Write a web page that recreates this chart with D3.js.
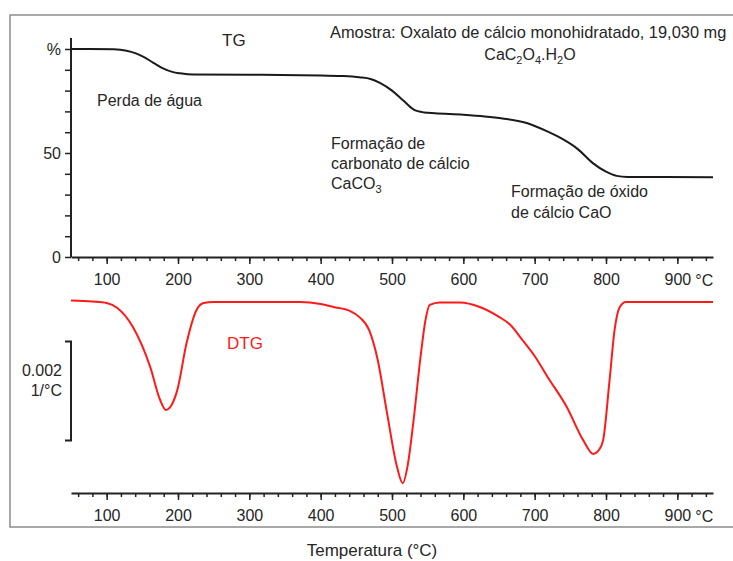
<!DOCTYPE html>
<meta charset="utf-8">
<script src="https://d3js.org/d3.v7.min.js"></script>
<style>
  body { margin: 0; background: #fff; }
  text { font-family: "Liberation Sans", Arial, sans-serif; fill: #262626; }
</style>
<div id="my_dataviz"></div>
<script>
// TG curve: temperature (°C) and residual mass (%)
var tgTemp = [50, 110, 128, 140, 151, 165, 179, 192, 203, 222, 300, 400, 430, 454, 470, 483, 500, 515, 530, 545, 560, 600, 630, 655, 690, 720, 740, 760, 782, 800, 815, 830, 950];
var tgMass = [100, 99.9, 99.2, 98, 96.3, 93.5, 90.7, 89, 88.3, 87.7, 87.6, 87.3, 87, 86.4, 85.6, 83.7, 80, 75.5, 71, 69.5, 69.1, 68.4, 67.6, 66.6, 64.3, 60, 56.5, 52, 45, 41, 39, 38.5, 38.4];

// DTG curve: temperature (°C) and derivative (1/°C)
var dtgTemp = [50, 80, 100, 115, 137, 161, 175, 183, 191, 199, 212, 226, 236, 250, 300, 371, 400, 418, 441, 454, 468, 480, 493, 507, 515, 522, 530, 540, 547, 553, 567, 595, 623, 650, 665, 683, 700, 717, 745, 768, 782, 790, 796, 805, 812, 819, 828, 850, 950];
var dtgValue = [0.00003, 0.00001, -0.00002, -0.00012, -0.00051, -0.00131, -0.00198, -0.00218, -0.00208, -0.00178, -0.00083, -0.00016, -0.00002, 0, 0, 0, -0.00004, -0.0001, -0.00018, -0.0003, -0.00057, -0.00117, -0.00224, -0.00333, -0.00366, -0.0033, -0.00242, -0.00111, -0.00036, -0.00006, -0.00001, -0.00001, -0.0001, -0.0003, -0.00045, -0.00077, -0.00109, -0.00149, -0.00212, -0.00279, -0.00307, -0.00299, -0.00279, -0.00158, -0.00057, -0.00011, 0, 0, 0];

// axis ticks
var majorTicks = [100, 200, 300, 400, 500, 600, 700, 800, 900];
var minorTicks = d3.range(60, 950, 20);
var tgTicks = d3.range(0, 101, 10);
var tgLabels = {0: "0", 50: "50", 100: "%"};
var scaleBar = [-0.0008, -0.0028]; // 0.002 1/°C

var width = 733, height = 561;

var svg = d3.select("#my_dataviz")
  .append("svg")
    .attr("width", width)
    .attr("height", height);

// outer frame
svg.append("rect")
  .attr("x", 10).attr("y", 15)
  .attr("width", 740).attr("height", 512)
  .attr("fill", "none")
  .attr("stroke", "#8c8c8c")
  .attr("stroke-width", 1.5);

var x = d3.scaleLinear().domain([50, 950]).range([71, 713]);
var yTG = d3.scaleLinear().domain([0, 100]).range([257, 49]);
var yDTG = d3.scaleLinear().domain([0, -0.002]).range([302, 401]);

function xAxis(g, yPos, labelY) {
  g.attr("transform", "translate(0," + yPos + ")");
  g.append("g")
    .call(d3.axisBottom(x).tickValues(minorTicks).tickSize(4).tickSizeOuter(0).tickFormat(""))
    .call(function(s) { s.select(".domain").attr("stroke", "#222").attr("stroke-width", 2); });
  var maj = g.append("g")
    .call(d3.axisBottom(x).tickValues(majorTicks).tickSize(7).tickSizeOuter(0).tickPadding(labelY))
    .call(function(s) { s.select(".domain").remove(); });
  g.selectAll(".tick line").attr("stroke", "#222").attr("stroke-width", 1.5);
  maj.selectAll("text").attr("font-size", 16).attr("fill", "#262626")
    .style("font-family", "Liberation Sans, Arial, sans-serif");
  g.append("text")
    .attr("x", x(900) + 18)
    .attr("y", labelY + 19)
    .attr("font-size", 16)
    .text("°C");
}

// TG axes
svg.append("g").call(function(g) { xAxis(g, 257, 10); });

var yAx = svg.append("g")
  .attr("transform", "translate(71,0)")
  .call(d3.axisLeft(yTG).tickValues(tgTicks).tickSize(6).tickSizeOuter(0).tickPadding(4)
    .tickFormat(function(d) { return tgLabels[d] || ""; }));
yAx.select(".domain").attr("d", "M0," + yTG(0) + "V38").attr("stroke", "#222").attr("stroke-width", 2);
yAx.selectAll(".tick line").attr("stroke", "#222").attr("stroke-width", 1.5);
yAx.selectAll("text").attr("font-size", 16).attr("fill", "#262626")
  .style("font-family", "Liberation Sans, Arial, sans-serif");

// TG curve
var tgData = tgTemp.map(function(t, i) { return [t, tgMass[i]]; });
svg.append("path")
  .datum(tgData)
  .attr("fill", "none")
  .attr("stroke", "#1a1a1a")
  .attr("stroke-width", 2)
  .attr("d", d3.line()
    .x(function(d) { return x(d[0]); })
    .y(function(d) { return yTG(d[1]); })
    .curve(d3.curveMonotoneX));

// DTG axis
svg.append("g").call(function(g) { xAxis(g, 493, 10); });

// DTG curve
var dtgData = dtgTemp.map(function(t, i) { return [t, dtgValue[i]]; });
svg.append("path")
  .datum(dtgData)
  .attr("fill", "none")
  .attr("stroke", "#ff1a1a")
  .attr("stroke-width", 2)
  .attr("d", d3.line()
    .x(function(d) { return x(d[0]); })
    .y(function(d) { return yDTG(d[1]); })
    .curve(d3.curveMonotoneX));

// scale bar
svg.append("path")
  .attr("fill", "none")
  .attr("stroke", "#222")
  .attr("stroke-width", 2)
  .attr("d", "M65," + yDTG(scaleBar[0]) + "H71V" + yDTG(scaleBar[1]) + "H65");

svg.append("text").attr("x", 62).attr("y", 376).attr("text-anchor", "end").attr("font-size", 16).text("0.002");
svg.append("text").attr("x", 62).attr("y", 396).attr("text-anchor", "end").attr("font-size", 16).text("1/°C");

// annotations
function label(xp, yp, txt, opts) {
  var t = svg.append("text").attr("x", xp).attr("y", yp).attr("font-size", (opts && opts.size) || 16);
  if (opts && opts.anchor) t.attr("text-anchor", opts.anchor);
  if (opts && opts.fill) t.style("fill", opts.fill);
  return t.text(txt);
}

label(222, 46, "TG", {size: 17});
label(330, 38, "Amostra: Oxalato de cálcio monohidratado, 19,030 mg", {size: 16.4});

var f = svg.append("text").attr("x", 530).attr("y", 60).attr("font-size", 16).attr("text-anchor", "middle");
f.append("tspan").text("CaC");
f.append("tspan").attr("font-size", 11).attr("dy", 4).text("2");
f.append("tspan").attr("dy", -4).text("O");
f.append("tspan").attr("font-size", 11).attr("dy", 4).text("4");
f.append("tspan").attr("dy", -4).text(".H");
f.append("tspan").attr("font-size", 11).attr("dy", 4).text("2");
f.append("tspan").attr("dy", -4).text("O");

label(97, 106, "Perda de água");
label(331, 149, "Formação de");
label(331, 169, "carbonato de cálcio");
var c = svg.append("text").attr("x", 331).attr("y", 189).attr("font-size", 16);
c.append("tspan").text("CaCO");
c.append("tspan").attr("font-size", 11).attr("dy", 4).text("3");

label(511, 197, "Formação de óxido");
label(511, 218, "de cálcio CaO");

label(227, 349, "DTG", {size: 17, fill: "#ff1a1a"});

label(372, 556, "Temperatura (°C)", {size: 17, anchor: "middle"});
</script>
